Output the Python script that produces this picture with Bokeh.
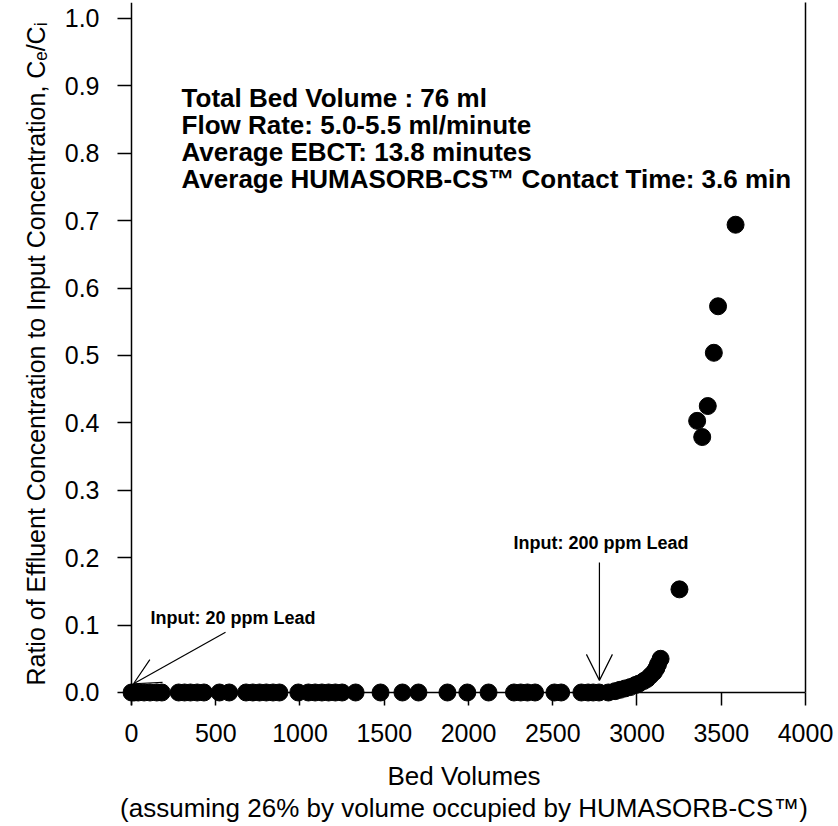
from bokeh.plotting import figure
from bokeh.models import (Range1d, FixedTicker, LinearAxis, Label, Arrow, OpenHead,
                          ColumnDataSource, Span)
from bokeh.embed import file_html
from bokeh.resources import INLINE

# ---------------- data ----------------
bed_volumes = [
    0, 15, 40, 75, 110, 150, 180,
    280, 315, 350, 390, 430,
    522, 580,
    680, 720, 760, 800, 840, 878,
    990,
    1050, 1090, 1130, 1170, 1210, 1250,
    1330, 1478, 1608, 1703, 1875, 1993, 2119,
    2270, 2310, 2350, 2395,
    2510, 2550,
    2670, 2710, 2740, 2775,
    2830, 2870, 2900, 2930, 2960, 2990, 3010, 3040, 3060, 3080, 3100, 3115, 3125, 3140,
    3252, 3357, 3387, 3420, 3456, 3481, 3585,
]
ce_ci = [
    0.0, 0.0, 0.0, 0.0, 0.0, 0.0, 0.0,
    0.0, 0.0, 0.0, 0.0, 0.0,
    0.0, 0.0,
    0.0, 0.0, 0.0, 0.0, 0.0, 0.0,
    0.0,
    0.0, 0.0, 0.0, 0.0, 0.0, 0.0,
    0.0, 0.0, 0.0, 0.0, 0.0, 0.0, 0.0,
    0.0, 0.0, 0.0, 0.0,
    0.0, 0.0,
    0.0, 0.0, 0.0, 0.0,
    0.0, 0.002, 0.004, 0.006, 0.008, 0.011, 0.013, 0.017, 0.020, 0.025, 0.030, 0.036, 0.042, 0.050,
    0.153, 0.403, 0.379, 0.425, 0.504, 0.573, 0.694,
]

x_ticks = [0, 500, 1000, 1500, 2000, 2500, 3000, 3500, 4000]
x_tick_labels = ["0", "500", "1000", "1500", "2000", "2500", "3000", "3500", "4000"]
y_ticks = [0.0, 0.1, 0.2, 0.3, 0.4, 0.5, 0.6, 0.7, 0.8, 0.9, 1.0]
y_tick_labels = ["0.0", "0.1", "0.2", "0.3", "0.4", "0.5", "0.6", "0.7", "0.8", "0.9", "1.0"]

info_lines = [
    "Total Bed Volume : 76 ml",
    "Flow Rate: 5.0-5.5 ml/minute",
    "Average EBCT: 13.8 minutes",
    "Average HUMASORB-CS\u2122 Contact Time: 3.6 min",
]
input_20_text = "Input: 20 ppm Lead"
input_200_text = "Input: 200 ppm Lead"
x_title = "Bed Volumes\n(assuming 26% by volume occupied by HUMASORB-CS\u2122)"
y_title = "Ratio of Effluent Concentration to Input Concentration, C\u2091/C\u1d62"

FONT = "Liberation Sans"

# ---------------- figure ----------------
p = figure(width=838, height=826, output_backend="svg", toolbar_location=None,
           x_range=Range1d(-53.4, 4000), y_range=Range1d(-0.0193, 1.0237),
           x_axis_type=None, y_axis_type=None,
           min_border_left=122, min_border_right=33, min_border_top=2, min_border_bottom=121)
p.outline_line_color = None
p.background_fill_color = "white"
p.border_fill_color = "white"

tick_style = dict(major_tick_line_color="black", major_tick_line_width=1.5,
                  minor_tick_out=0, minor_tick_in=0,
                  major_label_text_font=FONT, major_label_text_font_size="25px",
                  major_label_text_color="black",
                  axis_label_text_font=FONT,
                  axis_label_text_font_style="normal", axis_label_text_color="black")

xaxis = LinearAxis(axis_line_color=None,
                   ticker=FixedTicker(ticks=x_ticks, minor_ticks=[]),
                   major_label_overrides={t: l for t, l in zip(x_ticks, x_tick_labels)},
                   major_tick_in=13, major_tick_out=0, major_label_standoff=18,
                   axis_label=x_title, axis_label_standoff=16,
                   axis_label_text_font_size="26px",
                   axis_label_text_line_height=1.08, **tick_style)
p.add_layout(xaxis, "below")

yaxis = LinearAxis(axis_line_color=None,
                   ticker=FixedTicker(ticks=y_ticks, minor_ticks=[]),
                   major_label_overrides={t: l for t, l in zip(y_ticks, y_tick_labels)},
                   major_tick_in=9, major_tick_out=5, major_label_standoff=18,
                   axis_label=y_title, axis_label_standoff=12,
                   axis_label_text_font_size="25px", **tick_style)
p.add_layout(yaxis, "left")

raxis = LinearAxis(bounds=(0, 1.0237), axis_line_color="black", axis_line_width=1.5,
                   ticker=FixedTicker(ticks=[], minor_ticks=[]),
                   major_tick_line_color=None, minor_tick_line_color=None,
                   major_label_text_color=None, major_label_text_font_size="1px")
p.add_layout(raxis, "right")

# axis lines through the origin
p.add_layout(Span(location=0, dimension="width", line_color="black", line_width=1.5))
p.add_layout(Span(location=0, dimension="height", line_color="black", line_width=1.5))

src = ColumnDataSource(data=dict(x=bed_volumes, y=ce_ci))
p.scatter("x", "y", source=src, marker="circle", size=17,
          fill_color="black", line_color="black")

# info block
for i, line in enumerate(info_lines):
    p.add_layout(Label(x=297, y=0.8813 - i * 0.0396, text=line, text_font=FONT,
                       text_font_style="bold", text_font_size="26px",
                       text_color="black", text_baseline="alphabetic"))

# annotations with arrows
p.add_layout(Label(x=113, y=0.111, text=input_20_text, text_font=FONT,
                   text_font_style="bold", text_font_size="18px",
                   text_color="black", text_baseline="alphabetic"))
p.add_layout(Arrow(x_start=558, y_start=0.0895, x_end=12, y_end=0.013,
                   line_width=1.2, line_color="black",
                   end=OpenHead(size=26, line_width=1.2, line_color="black")))

p.add_layout(Label(x=2267, y=0.2225, text=input_200_text, text_font=FONT,
                   text_font_style="bold", text_font_size="18px",
                   text_color="black", text_baseline="alphabetic"))
p.add_layout(Arrow(x_start=2777, y_start=0.193, x_end=2777, y_end=0.018,
                   line_width=1.2, line_color="black",
                   end=OpenHead(size=26, line_width=1.2, line_color="black")))

open("out.html", "w").write(file_html(p, INLINE))
